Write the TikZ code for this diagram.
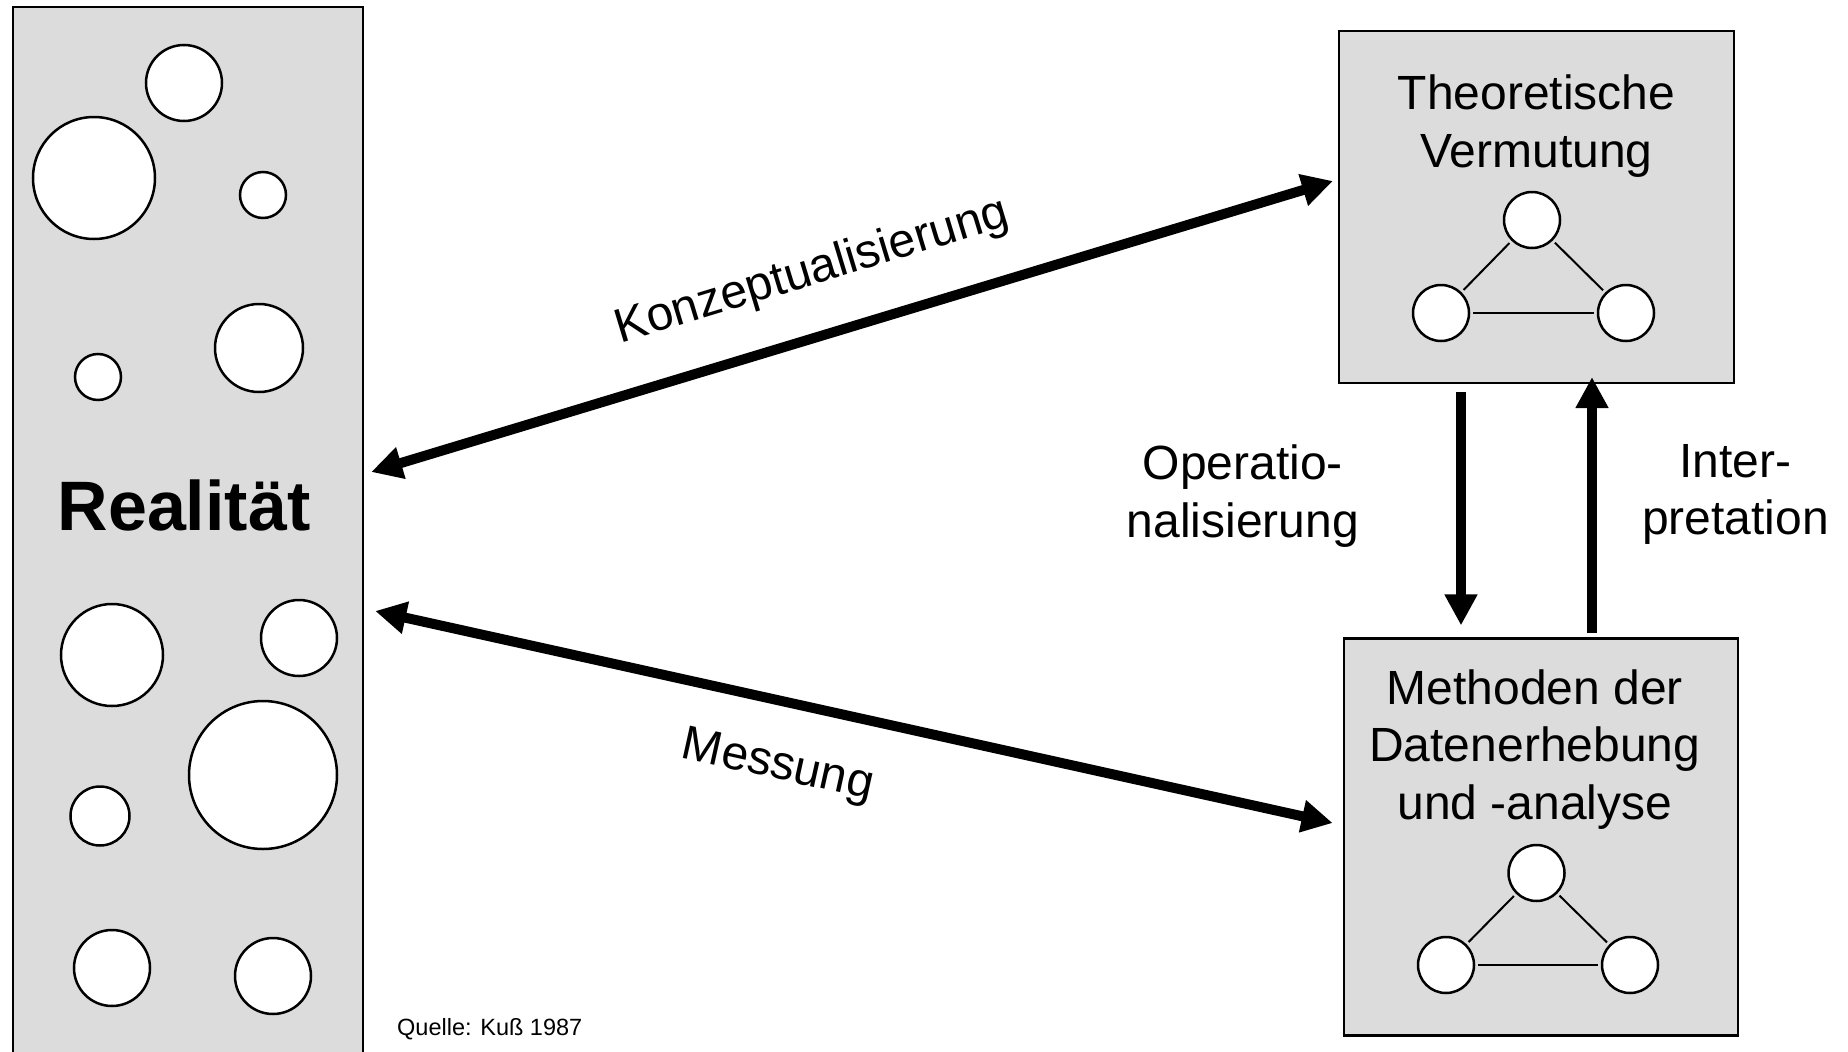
\documentclass[tikz,border=0pt]{standalone}
\usepackage{fontspec}
\setmainfont{Liberation Sans}
\usetikzlibrary{positioning,calc,arrows.meta}
\definecolor{panelgray}{RGB}{220,220,220}
\newcommand{\flowsize}{\fontsize{48}{57.5}\selectfont}

\begin{document}
\begin{tikzpicture}[x=1pt, y=-1pt,
        panel/.style={draw, line width=2.2pt, fill=panelgray, inner sep=0pt},
        bubble/.style={draw, line width=2.5pt, fill=white},
        dot/.style={circle, draw, line width=2.5pt, fill=white, minimum size=56pt, inner sep=0pt},
        link/.style={line width=2pt, shorten <=3pt, shorten >=3pt},
        bigarrow/.style={line width=10pt, >={Triangle[length=31pt, width=31pt]}},
        flowtext/.style={font=\flowsize, align=center, inner sep=0pt}]
        \useasboundingbox (0,0) rectangle (1848,1052);

        % panels
        \node[panel, anchor=north west, minimum width=350pt, minimum height=1060pt] (realitaet) at (12,6) {};
        \node[panel, minimum width=395pt, minimum height=352pt] (theorie) at (1536.5,207) {};
        \node[panel, minimum width=394pt, minimum height=397pt] (methoden) at (1540.75,837) {};

        % bubbles of the reality
        \draw[bubble] (184,83) circle[radius=38pt];
        \draw[bubble] (94,178) circle[radius=61pt];
        \draw[bubble] (263,195) circle[radius=23pt];
        \draw[bubble] (259,348) circle[radius=44pt];
        \draw[bubble] (98,377) circle[radius=23pt];
        \draw[bubble] (112,655) circle[radius=51pt];
        \draw[bubble] (299,638) circle[radius=38pt];
        \draw[bubble] (263,775) circle[radius=74pt];
        \draw[bubble] (100,816) circle[radius=29.5pt];
        \draw[bubble] (112,968) circle[radius=38pt];
        \draw[bubble] (273,976) circle[radius=38pt];
        \node[font=\bfseries\fontsize{70}{70}\selectfont, anchor=base, inner sep=0pt] (realtext) at (184,530) {Realität};

        % box texts
        \node[flowtext, below=45pt of theorie.north] (theorietext) {Theoretische\\Vermutung};
        \node[flowtext, below=32pt of methoden.north, xshift=-6pt] (methodentext) {Methoden der\\Datenerhebung\\und -analyse};

        % small networks
        \node[dot] (theoA) at (1532,220) {};
        \node[dot] (theoB) at (1441,313) {};
        \node[dot] (theoC) at (1626,313) {};
        \draw[link] (theoA) -- (theoB);
        \draw[link] (theoB) -- (theoC);
        \draw[link] (theoA) -- (theoC);

        \node[dot] (methA) at (1536.5,873) {};
        \node[dot] (methB) at (1446,965) {};
        \node[dot] (methC) at (1630,965) {};
        \draw[link] (methA) -- (methB);
        \draw[link] (methB) -- (methC);
        \draw[link] (methA) -- (methC);

        % arrows
        \draw[bigarrow, <->] ($(realitaet.east |- 0,472)+(7,0)$) -- ($(theorie.west |- 0,181)+(-5,0)$)
            node[flowtext, pos=0.478, sloped, above=36pt] (konzlabel) {Konzeptualisierung};
        \draw[bigarrow, <->] ($(realitaet.east |- 0,611)+(11,0)$) -- ($(methoden.west |- 0,823)+(-10,0)$)
            node[flowtext, pos=0.435, sloped, below=39pt] (messlabel) {Messung};
        \draw[bigarrow, ->] ($(theorie.south -| 1461,0)+(0,8)$) -- ($(methoden.north -| 1461,0)+(0,-12)$)
            node[flowtext, pos=0.446, left=97pt] (oplabel) {Operatio-\\nalisierung};
        \draw[bigarrow, ->] ($(methoden.north -| 1592,0)+(0,-4)$) -- ($(theorie.south -| 1592,0)+(0,-7)$)
            node[flowtext, pos=0.543, right=45pt] (interlabel) {Inter-\\pretation};

        \node[font=\fontsize{23.5}{24}\selectfont, anchor=base west, inner sep=0pt] (quelle) at (397,1035) {Quelle: Kuß 1987};
\end{tikzpicture}
\end{document}
